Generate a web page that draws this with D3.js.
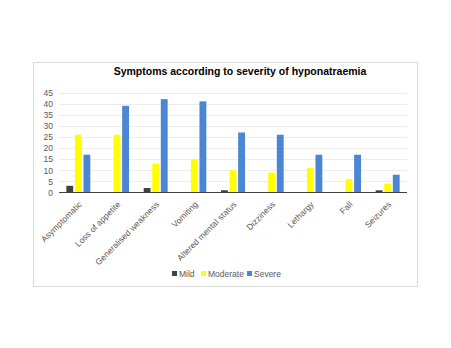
<!DOCTYPE html>
<html><head><meta charset="utf-8">
<script src="https://cdn.jsdelivr.net/npm/d3@7"></script>
<style>body{margin:0;background:#fff}svg{display:block}</style>
</head><body><svg id="c" width="451" height="348"></svg>
<script>
const categories = ["Asymptomatic","Loss of appetite","Generalised weakness","Vomiting","Altered mental status","Dizziness","Lethargy","Fall","Seizures"];
const seriesNames = ["Mild","Moderate","Severe"];
const mild = [3,0,2,0,1,0,0,0,1];
const moderate = [26,26,13,15,10,9,11,6,4];
const severe = [17,39,42,41,27,26,17,17,8];
const yTicks = [0,5,10,15,20,25,30,35,40,45];
const colors = ["#404040","#ffff00","#4a86d4"];
const series = [mild, moderate, severe];

const svg = d3.select("#c");
const font = "Liberation Sans, Arial, sans-serif";
svg.append("rect").attr("x",33.5).attr("y",62.5).attr("width",384).attr("height",224)
  .attr("fill","#fff").attr("stroke","#d9d9d9").attr("stroke-width",1);

svg.append("text").attr("x",240).attr("y",75).attr("text-anchor","middle")
  .attr("font-family",font).attr("font-weight","bold").attr("font-size",10.5).attr("fill","#000")
  .text("Symptoms  according to severity of hyponatraemia");

const x0 = d3.scaleBand().domain(categories).range([59,407]).paddingInner(0.38).paddingOuter(0.19);
const x1 = d3.scaleBand().domain(seriesNames).range([0,x0.bandwidth()]).paddingInner(0.2);
const y = d3.scaleLinear().domain([0,45]).range([192.5,92.5]);

const grid = svg.append("g");
grid.selectAll("line").data(yTicks.slice(1)).join("line")
  .attr("x1",59).attr("x2",407).attr("y1",d=>Math.round(y(d))+0.5).attr("y2",d=>Math.round(y(d))+0.5)
  .attr("stroke","#ececec").attr("stroke-width",1);

const yAxis = svg.append("g").attr("transform","translate(59,0)")
  .call(d3.axisLeft(y).tickValues(yTicks).tickSize(0).tickPadding(6));
yAxis.select(".domain").remove();
yAxis.selectAll("text").attr("font-family",font).attr("font-size",8.5).attr("fill","#595959");

const groups = svg.append("g").selectAll("g").data(categories).join("g")
  .attr("transform",d=>`translate(${x0(d)},0)`);
groups.selectAll("rect").data((d,i)=>seriesNames.map((s,j)=>({s,v:series[j][i],j}))).join("rect")
  .attr("x",d=>x1(d.s)).attr("width",x1.bandwidth())
  .attr("y",d=>y(d.v)).attr("height",d=>y(0)-y(d.v)).attr("fill",d=>colors[d.j]);

svg.append("line").attr("x1",59).attr("x2",407).attr("y1",192.5).attr("y2",192.5)
  .attr("stroke","#404040").attr("stroke-width",1);

const xAxis = svg.append("g").attr("transform","translate(0,192)")
  .call(d3.axisBottom(x0).tickSize(0).tickPadding(0));
xAxis.select(".domain").remove();
xAxis.selectAll("text").attr("font-family",font).attr("font-size",8.5).attr("fill","#595959")
  .attr("text-anchor","end").attr("dy",0)
  .attr("transform","translate(4,13) rotate(-45)");

const legend = svg.append("g");
const items = [{n:"Mild",x:172},{n:"Moderate",x:201},{n:"Severe",x:247}];
items.forEach((it,i)=>{
  legend.append("rect").attr("x",it.x).attr("y",271).attr("width",5).attr("height",5).attr("fill",colors[i]);
  legend.append("text").attr("x",it.x+7).attr("y",277).attr("font-family",font).attr("font-size",8.5)
    .attr("fill","#595959").text(it.n);
});
</script></body></html>
